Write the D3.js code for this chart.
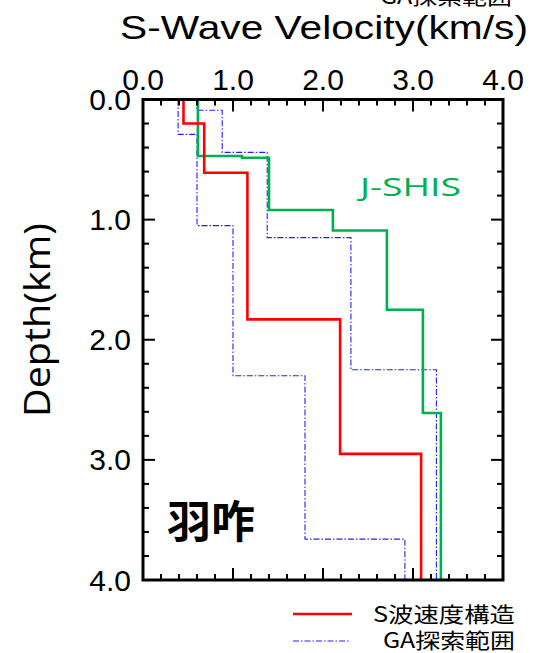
<!DOCTYPE html>
<html>
<head>
<meta charset="utf-8">
<script src="https://cdn.jsdelivr.net/npm/d3@7"></script>
<style>
  body { margin: 0; background: #fff; }
  svg { display: block; }
  text { font-family: "Liberation Sans", Arial, sans-serif; }
  .cjk { font-family: "Noto Sans CJK JP", sans-serif; }
</style>
</head>
<body>
<div id="chart"></div>
<script>
// velocity ticks and depth ticks
var velTicks = [0, 1, 2, 3, 4];
var depthTicks = [0, 1, 2, 3, 4];

// S波速度構造 (layer boundaries in km, velocity per layer in km/s)
var redDepths = [0, 0.20, 0.61, 1.83, 2.95, 4.0];
var redVel = [0.45, 0.68, 1.16, 2.19, 3.09];

// J-SHIS
var jshisDepths = [0, 0.47, 0.485, 0.92, 1.09, 1.75, 2.61, 4.0];
var jshisVel = [0.61, 1.10, 1.40, 2.11, 2.71, 3.11, 3.31];

// GA探索範囲 lower / upper bound
var gaMinDepths = [0, 0.29, 1.05, 2.30, 3.66, 4.0];
var gaMinVel = [0.39, 0.60, 1.00, 1.80, 2.91];
var gaMaxDepths = [0, 0.09, 0.44, 1.15, 2.25, 4.0];
var gaMaxVel = [0.60, 0.88, 1.38, 2.31, 3.26];

var width = 545, height = 653;
// note: "top" is taken by window.top, so plot edges get their own names
var plotL = 143, plotR = 503, plotT = 99.5, plotB = 580;

var svg = d3.select("#chart").append("svg")
  .attr("width", width)
  .attr("height", height);

var x = d3.scaleLinear().domain([0, 4]).range([plotL, plotR]);
var y = d3.scaleLinear().domain([0, 4]).range([plotT, plotB]);

// turn layers into a step path
function steps(depths, vel) {
  var pts = [];
  for (var i = 0; i < vel.length; i++) {
    pts.push([vel[i], depths[i]]);
    pts.push([vel[i], depths[i + 1]]);
  }
  return pts;
}
var line = d3.line()
  .x(function(d) { return x(d[0]); })
  .y(function(d) { return y(d[1]); });

// GA range lines
[[gaMinDepths, gaMinVel], [gaMaxDepths, gaMaxVel]].forEach(function(s) {
  svg.append("path")
    .attr("d", line(steps(s[0], s[1])))
    .attr("fill", "none")
    .attr("stroke", "#2020ff")
    .attr("stroke-width", 1.1)
    .attr("stroke-dasharray", "6,2,1.5,2");
});

svg.append("path")
  .attr("d", line(steps(jshisDepths, jshisVel)))
  .attr("fill", "none")
  .attr("stroke", "#00b050")
  .attr("stroke-width", 2.6);

svg.append("path")
  .attr("d", line(steps(redDepths, redVel)))
  .attr("fill", "none")
  .attr("stroke", "#ff0000")
  .attr("stroke-width", 2.6);

// ticks, inward on all four sides
var minor = d3.range(0, 4.001, 0.2);
minor.forEach(function(v) {
  var major = Math.abs(v - Math.round(v)) < 1e-6;
  var len = major ? 12 : 6;
  svg.append("line").attr("x1", x(v)).attr("x2", x(v)).attr("y1", plotT).attr("y2", plotT + len)
    .attr("stroke", "#000").attr("stroke-width", 2);
  svg.append("line").attr("x1", x(v)).attr("x2", x(v)).attr("y1", plotB).attr("y2", plotB - len)
    .attr("stroke", "#000").attr("stroke-width", 2);
  svg.append("line").attr("y1", y(v)).attr("y2", y(v)).attr("x1", plotL).attr("x2", plotL + len)
    .attr("stroke", "#000").attr("stroke-width", 2);
  svg.append("line").attr("y1", y(v)).attr("y2", y(v)).attr("x1", plotR).attr("x2", plotR - len)
    .attr("stroke", "#000").attr("stroke-width", 2);
});

svg.append("rect")
  .attr("x", plotL).attr("y", plotT)
  .attr("width", plotR - plotL).attr("height", plotB - plotT)
  .attr("fill", "none")
  .attr("stroke", "#000")
  .attr("stroke-width", 3);

// tick labels
svg.selectAll(".xl").data(velTicks).enter().append("text")
  .attr("x", function(d) { return x(d); })
  .attr("y", 90)
  .attr("text-anchor", "middle")
  .attr("font-size", 30)
  .text(function(d) { return d.toFixed(1); });

svg.selectAll(".yl").data(depthTicks).enter().append("text")
  .attr("x", 131)
  .attr("y", function(d) { return y(d) + 10.5; })
  .attr("text-anchor", "end")
  .attr("font-size", 30)
  .text(function(d) { return d.toFixed(1); });

// titles
svg.append("text")
  .attr("x", 120).attr("y", 39)
  .attr("font-size", 33)
  .attr("textLength", 408)
  .attr("lengthAdjust", "spacingAndGlyphs")
  .text("S-Wave Velocity(km/s)");

// legend entry that sticks out above the top edge in the original
svg.append("text")
  .attr("class", "cjk")
  .attr("x", 380).attr("y", 4)
  .attr("font-size", 22)
  .attr("textLength", 132)
  .attr("lengthAdjust", "spacingAndGlyphs")
  .text("GA探索範囲");

svg.append("text")
  .attr("transform", "translate(50,417) rotate(-90)")
  .style("font-family", "'Open Sans', sans-serif")
  .attr("font-size", 37)
  .attr("textLength", 194)
  .attr("lengthAdjust", "spacingAndGlyphs")
  .text("Depth(km)");

svg.append("text")
  .attr("x", 360).attr("y", 196)
  .style("font-family", "'Open Sans', sans-serif")
  .attr("font-size", 26)
  .attr("fill", "#00b050")
  .attr("textLength", 101)
  .attr("lengthAdjust", "spacingAndGlyphs")
  .text("J-SHIS");

svg.append("text")
  .attr("class", "cjk")
  .attr("x", 167).attr("y", 538)
  .attr("font-size", 44)
  .attr("font-weight", "bold")
  .text("羽咋");

// legend
svg.append("line")
  .attr("x1", 293).attr("x2", 352).attr("y1", 614).attr("y2", 614)
  .attr("stroke", "#ff0000").attr("stroke-width", 2.6);
svg.append("text")
  .attr("class", "cjk")
  .attr("x", 373).attr("y", 622)
  .attr("font-size", 21)
  .attr("textLength", 142)
  .attr("lengthAdjust", "spacingAndGlyphs")
  .text("S波速度構造");

svg.append("line")
  .attr("x1", 293).attr("x2", 350).attr("y1", 641).attr("y2", 641)
  .attr("stroke", "#2020ff").attr("stroke-width", 1.1)
  .attr("stroke-dasharray", "6,2,1.5,2");
svg.append("text")
  .attr("class", "cjk")
  .attr("x", 383).attr("y", 648)
  .attr("font-size", 21)
  .attr("textLength", 132)
  .attr("lengthAdjust", "spacingAndGlyphs")
  .text("GA探索範囲");
</script>
</body>
</html>
